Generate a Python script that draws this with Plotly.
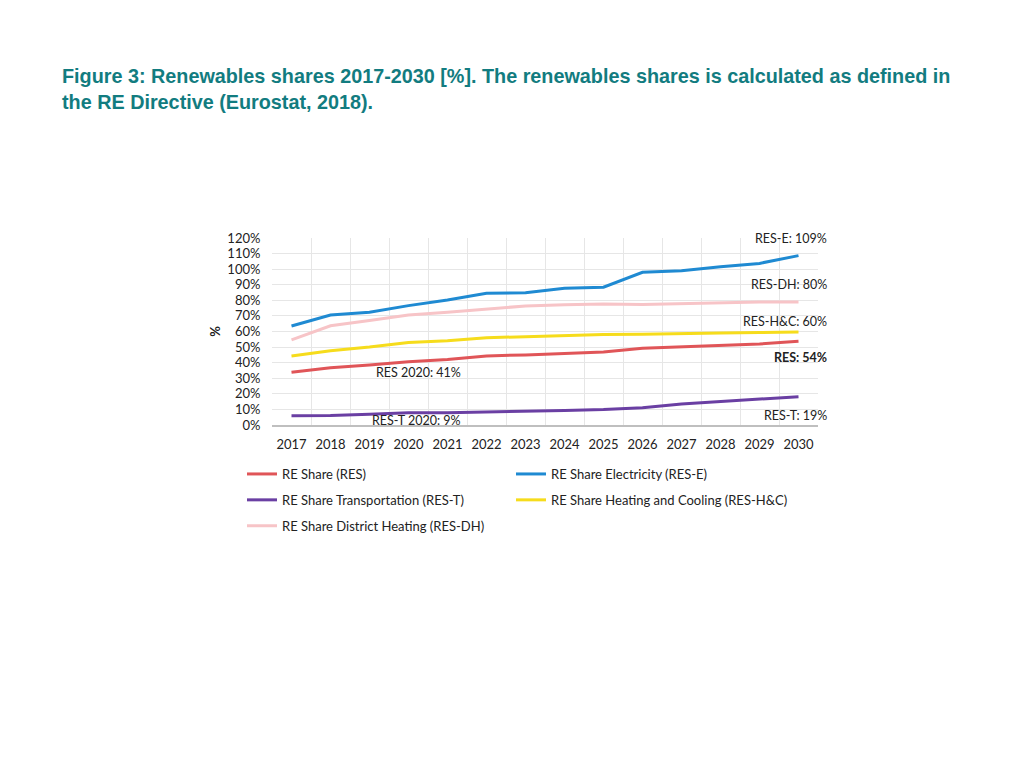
import plotly.graph_objects as go

years = [str(y) for y in range(2017, 2031)]

res = [33.8, 36.8, 38.5, 40.6, 42.0, 44.3, 45.0, 46.0, 46.9, 49.2, 50.0, 51.0, 52.0, 53.7]
res_e = [63.5, 70.6, 72.3, 76.6, 80.2, 84.5, 84.9, 87.7, 88.4, 98.0, 99.0, 101.6, 103.7, 108.7]
res_t = [6.0, 6.1, 6.9, 7.9, 7.9, 8.3, 8.5, 9.3, 9.9, 11.1, 13.4, 14.9, 16.6, 18.2]
res_hc = [44.3, 47.7, 50.0, 53.0, 54.0, 56.0, 56.7, 57.5, 58.0, 58.3, 58.5, 59.0, 59.4, 59.7]
res_dh = [54.6, 63.7, 67.0, 70.6, 72.3, 74.5, 76.4, 77.2, 77.7, 77.4, 77.9, 78.1, 79.0, 79.0]

# (name, values, colour, legend)
series = [
    ("RE Share (RES)", res, "#e05558", "legend"),
    ("RE Share Electricity (RES-E)", res_e, "#1f8ad2", "legend2"),
    ("RE Share Transportation (RES-T)", res_t, "#6a3fa3", "legend"),
    ("RE Share Heating and Cooling (RES-H&C)", res_hc, "#f6dc1c", "legend2"),
    ("RE Share District Heating (RES-DH)", res_dh, "#f7c4c7", "legend"),
]

yticks = list(range(0, 121, 10))
yticktext = [f"{v}%" for v in yticks]

# end labels: (text, label y position)
end_labels = [
    ("RES-E: 109%", 120),
    ("RES-DH: 80%", 90),
    ("RES-H&C: 60%", 66.7),
    ("<b>RES: 54%</b>", 43.6),
    ("RES-T: 19%", 6.4),
]
mid_labels = [
    ("RES 2020: 41%", 3.26, 34.0),
    ("RES-T 2020: 9%", 3.2, 3.2),
]

FONT = "Lato"
TXT = "#222222"
OFF = 8  # page body margin

fig = go.Figure()
for i, (name, vals, color, leg) in enumerate(series):
    fig.add_trace(go.Scatter(x=years, y=vals, name=name, mode="lines",
                             legend=leg, legendgroup=f"g{i}",
                             line=dict(color=color, width=3)))

for text, yv in end_labels:
    fig.add_annotation(x=1.02, xref="paper", y=yv, yref="y", text=text,
                       showarrow=False, xanchor="right", yanchor="middle",
                       font=dict(family=FONT, size=12.5, color=TXT))
for text, xv, yv in mid_labels:
    fig.add_annotation(x=xv, xref="x", y=yv, yref="y", text=text,
                       showarrow=False, xanchor="center", yanchor="middle",
                       font=dict(family=FONT, size=12.5, color=TXT))

legend_common = dict(orientation="v", yanchor="top", xanchor="left",
                     tracegroupgap=6, font=dict(family=FONT, size=13, color=TXT),
                     bgcolor="rgba(0,0,0,0)", borderwidth=0)

fig.update_layout(
    width=1024, height=768,
    paper_bgcolor="white", plot_bgcolor="white",
    margin=dict(l=272 - OFF, r=206 + OFF, t=238 - OFF, b=343 + OFF, autoexpand=False),
    title=dict(
        text="<b>Figure 3: Renewables shares 2017-2030 [%]. The renewables shares is calculated as defined in<br>the RE Directive (Eurostat, 2018).</b>",
        xref="container", yref="container",
        x=(62 - OFF) / 1024, xanchor="left", y=1 - 75 / 768, yanchor="top",
        font=dict(family="Liberation Sans", size=19.8, color="#127c80"),
    ),
    font=dict(family=FONT, size=13, color=TXT),
    showlegend=True,
    legend=dict(x=(242 - 272) / 546, y=-(459 - 425) / 187, **legend_common),
    legend2=dict(x=(511 - 272) / 546, y=-(459 - 425) / 187, **legend_common),
)
fig.update_xaxes(type="category", range=[-0.5, 13.5], tickson="boundaries",
                 showgrid=True, gridcolor="#e6e6e6",
                 showline=True, linecolor="#bfbfbf", linewidth=1.5,
                 ticks="", ticklabelstandoff=7,
                 tickfont=dict(family=FONT, size=13, color=TXT), zeroline=False)
fig.update_yaxes(range=[0, 120], tickvals=yticks, ticktext=yticktext, showgrid=True,
                 gridcolor="#e6e6e6", zeroline=False, showline=False,
                 ticks="outside", ticklen=8, tickcolor="white",
                 tickfont=dict(family=FONT, size=13, color=TXT),
                 title=dict(text="<b>%</b>", font=dict(family=FONT, size=13, color=TXT), standoff=3))

fig.write_html("out.html")
